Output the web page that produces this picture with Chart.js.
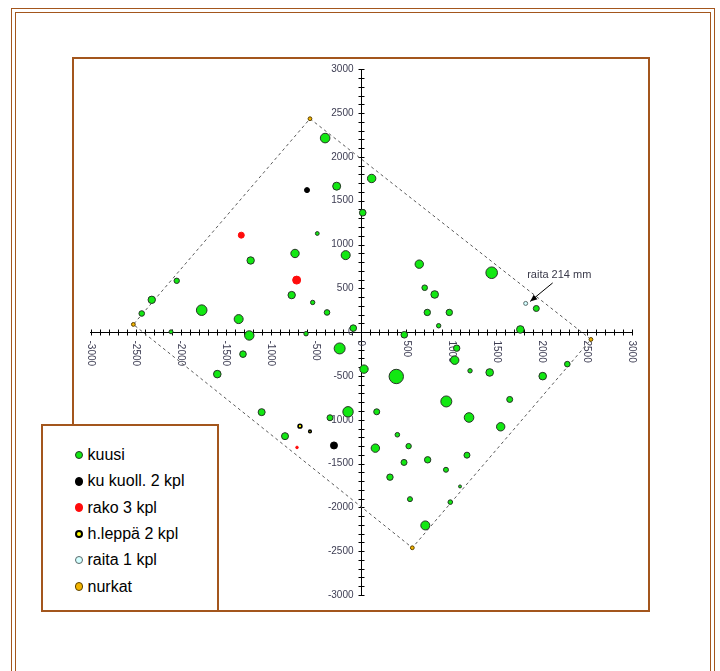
<!DOCTYPE html>
<html>
<head>
<meta charset="utf-8">
<script src="https://cdn.jsdelivr.net/npm/chart.js@4"></script>
<style>
  html, body { margin: 0; padding: 0; background: #fff; width: 720px; height: 671px; overflow: hidden; }
  .frame { position: absolute; box-sizing: border-box; border: 1.5px solid #a3561d; }
  #outer { left: 11px; top: 8px; width: 703.5px; height: 720px; }
  #inner { left: 14.5px; top: 12px; width: 696.5px; height: 720px; }
  #plotbox { position: absolute; left: 72px; top: 56.5px; width: 578px; height: 555px;
             box-sizing: border-box; border: 2px solid #a3561d; }
  #wrap { position: absolute; left: 0; top: 0; width: 720px; height: 671px; }
  #legend { position: absolute; left: 40.5px; top: 423.5px; width: 178px; height: 188px;
            box-sizing: border-box; border: 2px solid #a3561d; background: #fff; }
  .item { position: absolute; left: 0; height: 20px; font: 16px "Liberation Sans", Arial, sans-serif;
          color: #000; white-space: nowrap; }
  .dot { position: absolute; border-radius: 50%; box-sizing: border-box; }
  .txt { position: absolute; left: 45px; top: 0; line-height: 20px; }
</style>
</head>
<body>
<div id="outer" class="frame"></div>
<div id="inner" class="frame"></div>
<div id="plotbox"></div>
<div id="wrap"><canvas id="c" width="720" height="671"></canvas></div>
<div id="legend"></div>
<script>
// Koeala: puiden sijainnit (mm) koealan keskipisteestä, pallon koko = läpimitta
const kuusiX = [-400, 116, -272, 17, -487, -734, -172, -1226, -2046, -771, -538, -379, -2323, -2434, -1769, -1359, -2109, -1241, -612, -88,
                644, 1447, 704, 815, 733, 977, 859, 1942, 1765, 478, 1059, 1037, 31, 389, 1207, 1425, 2013, 2286, 944, 1647,
                172, 1196, 1547, 401, 157, 526, 475, 737, 1173, 940, 319, 1096, 541, 988, 711, -1311, -239, -1596, -1104, -146, -346, -845];
const kuusiY = [2215, 1754, 1666, 1363, 1126, 898, 879, 818, 586, 423, 339, 225, 369, 213, 251, 149, 4, -38, -18, 46,
                776, 678, 507, 430, 225, 225, 73, 270, 31, -30, -183, -320, -422, -506, -441, -460, -502, -365, -791, -768,
                -909, -974, -1080, -1171, -1324, -1301, -1487, -1457, -1404, -1571, -1655, -1761, -1906, -1940, -2206, -251, -186, -479, -913, -909, -977, -1187];
const kuusiR = [5.3, 4.7, 4.5, 3.8, 2.4, 4.7, 5.0, 4.2, 3.2, 4.2, 2.7, 3.3, 4.2, 3.3, 5.8, 5.0, 2.5, 5.2, 2.7, 3.8,
                4.7, 6.3, 3.3, 4.3, 3.7, 3.7, 2.7, 3.5, 4.3, 3.8, 3.7, 4.7, 4.7, 7.7, 2.7, 4.3, 4.3, 3.3, 6.0, 3.5,
                3.5, 5.3, 4.7, 2.8, 4.7, 3.2, 3.5, 3.7, 3.5, 3.0, 3.7, 2.0, 3.0, 2.8, 5.0, 3.8, 6.0, 4.3, 4.0, 5.7, 3.5, 4.0];

const kuolX = [-601, -302];
const kuolY = [1621, -1293];
const kuolR = [3.0, 4.0];

const rakoX = [-1330, -716, -712];
const rakoY = [1107, 594, -1316];
const rakoR = [3.5, 4.5, 1.8];

const leppaX = [-679, -568];
const leppaY = [-1073, -1133];
const leppaR = [2.4, 1.8];

const raitaX = [1824];
const raitaY = [328];
const raitaR = [2.5];
const raitaNote = 'raita 214 mm';

// koealan nurkat: ylä, oikea, ala, vasen
const nurkatX = [-568, 2548, 567, -2527];
const nurkatY = [2436, -83, -2461, 88];
const nurkatR = [2.4, 2.4, 2.4, 2.4];

const axisMin = -3000, axisMax = 3000, minorStep = 100, labelStep = 500;

function pts(xs, ys, rs) {
  return xs.map((x, i) => ({ x: x, y: ys[i], r: Math.max(rs[i] - 0.5, 1) }));
}

const series = [
  { label: 'kuusi',           data: pts(kuusiX, kuusiY, kuusiR),   bg: '#12e812', bd: '#263326', bw: 1 },
  { label: 'ku kuoll. 2 kpl', data: pts(kuolX, kuolY, kuolR),      bg: '#000000', bd: '#000000', bw: 1 },
  { label: 'rako 3 kpl',      data: pts(rakoX, rakoY, rakoR),      bg: '#ff0c0c', bd: '#ff0c0c', bw: 1 },
  { label: 'h.leppä 2 kpl',   data: pts(leppaX, leppaY, leppaR),   bg: '#ffff00', bd: '#000000', bw: 1.6 },
  { label: 'raita 1 kpl',     data: pts(raitaX, raitaY, raitaR),   bg: '#d4ffff', bd: '#5a6a6a', bw: 1 },
  { label: 'nurkat',          data: pts(nurkatX, nurkatY, nurkatR), bg: '#f2b400', bd: '#5a4000', bw: 1 }
];

const datasets = series.map(s => ({
  type: 'bubble', label: s.label, data: s.data,
  backgroundColor: s.bg, borderColor: s.bd, borderWidth: s.bw, order: 1
}));

// koealan rajat katkoviivana nurkkien kautta
const border = nurkatX.map((x, i) => ({ x: x, y: nurkatY[i] }));
border.push({ x: nurkatX[0], y: nurkatY[0] });
datasets.push({
  type: 'line', label: 'raja', data: border, borderColor: '#5a5a5a', borderWidth: 1,
  borderDash: [3, 3], pointRadius: 0, tension: 0, fill: false, order: 10
});

const labelFont = '10px "Liberation Sans", Arial, sans-serif';
const labelColor = '#3c3c52';

// asteikkoviivat akselin molemmin puolin, y-luvut vasemmalla ja x-luvut pystyyn käännettyinä
const axisMarks = {
  id: 'axisMarks',
  beforeDatasetsDraw(chart) {
    const { ctx, scales: { x, y } } = chart;
    const x0 = Math.round(x.getPixelForValue(0)) + 0.5;
    const y0 = Math.round(y.getPixelForValue(0)) + 0.5;
    ctx.save();
    ctx.strokeStyle = '#000';
    ctx.lineWidth = 1;
    ctx.beginPath();
    x.ticks.forEach(t => {
      const px = Math.round(x.getPixelForValue(t.value)) + 0.5;
      ctx.moveTo(px, y0 - 3); ctx.lineTo(px, y0 + 3);
    });
    y.ticks.forEach(t => {
      const py = Math.round(y.getPixelForValue(t.value)) + 0.5;
      ctx.moveTo(x0 - 3, py); ctx.lineTo(x0 + 3, py);
    });
    ctx.stroke();
    ctx.font = labelFont;
    ctx.fillStyle = labelColor;
    ctx.textBaseline = 'middle';
    ctx.textAlign = 'right';
    y.ticks.forEach(t => {
      if (t.value % labelStep !== 0) return;
      ctx.fillText(String(t.value), x0 - 8, y.getPixelForValue(t.value));
    });
    ctx.textAlign = 'left';
    x.ticks.forEach(t => {
      if (t.value % labelStep !== 0) return;
      const px = x.getPixelForValue(t.value);
      ctx.save();
      ctx.translate(px, y0 + 8);
      ctx.rotate(Math.PI / 2);
      ctx.fillText(String(t.value), 0, 0);
      ctx.restore();
    });
    ctx.restore();
  }
};

// raidan selite nuolella
const raitaLabel = {
  id: 'raitaLabel',
  afterDatasetsDraw(chart) {
    const el = chart.getDatasetMeta(4).data[0];
    if (!el) return;
    const { ctx } = chart;
    const px = el.x, py = el.y;
    const tipX = px + 4.5, tipY = py - 2;
    const tailX = px + 27, tailY = py - 20.5;
    ctx.save();
    ctx.strokeStyle = '#000';
    ctx.fillStyle = '#000';
    ctx.lineWidth = 1;
    ctx.beginPath();
    ctx.moveTo(tailX, tailY);
    ctx.lineTo(tipX, tipY);
    ctx.stroke();
    const ang = Math.atan2(tipY - tailY, tipX - tailX);
    ctx.beginPath();
    ctx.moveTo(tipX, tipY);
    ctx.lineTo(tipX - 7 * Math.cos(ang) + 3 * Math.sin(ang), tipY - 7 * Math.sin(ang) - 3 * Math.cos(ang));
    ctx.lineTo(tipX - 7 * Math.cos(ang) - 3 * Math.sin(ang), tipY - 7 * Math.sin(ang) + 3 * Math.cos(ang));
    ctx.closePath();
    ctx.fill();
    ctx.font = '11px "Liberation Sans", Arial, sans-serif';
    ctx.fillStyle = '#3a3a4a';
    ctx.textAlign = 'left';
    ctx.textBaseline = 'middle';
    ctx.fillText(raitaNote, px + 1.5, py - 28);
    ctx.restore();
  }
};

const chart = new Chart(document.getElementById('c'), {
  type: 'bubble',
  data: { datasets: datasets },
  options: {
    responsive: false,
    animation: false,
    events: [],
    layout: { padding: { left: 90.7, right: 88.3, top: 69.3, bottom: 76 } },
    plugins: { legend: { display: false }, tooltip: { enabled: false } },
    scales: {
      x: {
        type: 'linear', position: { y: 0 }, min: axisMin, max: axisMax,
        ticks: { display: false, stepSize: minorStep, autoSkip: false },
        grid: { display: false, drawTicks: false },
        border: { display: true, color: '#000', width: 1 }
      },
      y: {
        type: 'linear', position: { x: 0 }, min: axisMin, max: axisMax,
        ticks: { display: false, stepSize: minorStep, autoSkip: false },
        grid: { display: false, drawTicks: false },
        border: { display: true, color: '#000', width: 1 }
      }
    }
  },
  plugins: [axisMarks, raitaLabel]
});

// selite
const legend = document.getElementById('legend');
series.forEach((s, i) => {
  const row = document.createElement('div');
  row.className = 'item';
  row.style.top = (19.5 + i * 26.3) + 'px';
  row.style.width = '170px';
  const dot = document.createElement('span');
  dot.className = 'dot';
  const d = 8.5;
  dot.style.width = d + 'px';
  dot.style.height = d + 'px';
  dot.style.left = (36.5 - d / 2) + 'px';
  dot.style.top = (10 - d / 2) + 'px';
  dot.style.background = s.bg;
  dot.style.border = (s.bw > 1.2 ? 2 : 1) + 'px solid ' + s.bd;
  const txt = document.createElement('span');
  txt.className = 'txt';
  txt.textContent = s.label;
  row.appendChild(dot);
  row.appendChild(txt);
  legend.appendChild(row);
});
</script>
</body>
</html>
